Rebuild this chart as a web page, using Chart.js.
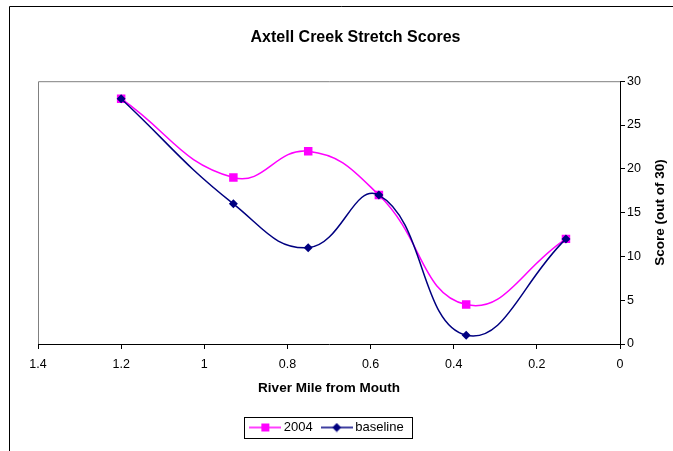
<!DOCTYPE html>
<html>
<head>
<meta charset="utf-8">
<script src="https://cdn.jsdelivr.net/npm/chart.js@4/dist/chart.umd.min.js"></script>
<style>
  html, body { margin: 0; padding: 0; background: #fff; }
  #wrap { position: relative; width: 673px; height: 451px; }
</style>
</head>
<body>
<div id="wrap"><canvas id="myChart" width="673" height="451"></canvas></div>
<script>
// river mile of each stretch
var riverMiles = [1.2, 0.93, 0.75, 0.58, 0.37, 0.13];
// scores
var scores2004 = [28, 19, 22, 17, 4.5, 12];
var scoresBaseline = [28, 16, 11, 17, 1, 12];
// axis ticks
var xTicks = [0, 0.2, 0.4, 0.6, 0.8, 1, 1.2, 1.4];
var yTicks = [0, 5, 10, 15, 20, 25, 30];

var FONT = "'Liberation Sans', Arial, sans-serif";

function pairs(xs, ys) {
  var out = [];
  for (var i = 0; i < xs.length; i++) out.push({x: xs[i], y: ys[i]});
  return out;
}

// small legend symbol: line with marker in middle
function legendSymbol(color, shape) {
  var c = document.createElement('canvas');
  c.width = 32; c.height = 10;
  var g = c.getContext('2d');
  g.strokeStyle = color;
  g.lineWidth = 1.5;
  g.beginPath(); g.moveTo(0, 5); g.lineTo(32, 5); g.stroke();
  g.fillStyle = color;
  if (shape == 'square') {
    g.fillRect(12, 1, 8, 8);
  } else {
    g.beginPath();
    g.moveTo(16, 0.5); g.lineTo(20.5, 5); g.lineTo(16, 9.5); g.lineTo(11.5, 5);
    g.closePath(); g.fill();
  }
  return c;
}
var symbols = [legendSymbol('#FF00FF', 'square'), legendSymbol('#000080', 'diamond')];

// frame, plot border, y title, legend box
var extras = {
  id: 'extras',
  afterLayout: function (chart) {
    // legend sits centred under the plot area, not the whole canvas
    chart.legend.left -= 27;
    chart.legend.right -= 27;
  },
  beforeDraw: function (chart) {
    var ctx = chart.ctx, a = chart.chartArea;
    ctx.save();
    ctx.strokeStyle = '#000';
    ctx.lineWidth = 1;
    ctx.beginPath();
    ctx.moveTo(9.5, 451); ctx.lineTo(9.5, 6.5); ctx.lineTo(673, 6.5);
    ctx.stroke();
    ctx.strokeStyle = '#808080';
    ctx.beginPath();
    ctx.moveTo(a.left + 0.5, a.bottom); ctx.lineTo(a.left + 0.5, a.top + 0.5); ctx.lineTo(a.right, a.top + 0.5);
    ctx.stroke();
    ctx.restore();
  },
  afterDraw: function (chart) {
    var ctx = chart.ctx, a = chart.chartArea;
    ctx.save();
    ctx.fillStyle = '#000';
    ctx.font = 'bold 13.5px ' + FONT;
    ctx.textAlign = 'center';
    ctx.textBaseline = 'middle';
    ctx.translate(660, (a.top + a.bottom) / 2);
    ctx.rotate(-Math.PI / 2);
    ctx.fillText('Score (out of 30)', 0, 0);
    ctx.restore();

    var boxes = chart.legend.legendHitBoxes;
    if (boxes && boxes.length) {
      var last = boxes[boxes.length - 1];
      var l = boxes[0].left - 9, r = last.left + last.width + 9;
      var t = boxes[0].top - 4, b = boxes[0].top + boxes[0].height + 4;
      ctx.save();
      ctx.strokeStyle = '#000';
      ctx.lineWidth = 1;
      ctx.strokeRect(Math.round(l) + 0.5, Math.round(t) + 0.5, Math.round(r - l), Math.round(b - t));
      ctx.restore();
    }
  }
};

var ctx = document.getElementById('myChart').getContext('2d');
var myChart = new Chart(ctx, {
  type: 'line',
  data: {
    datasets: [
      {
        label: '2004',
        data: pairs(riverMiles, scores2004),
        borderColor: '#FF00FF',
        backgroundColor: '#FF00FF',
        borderWidth: 1.5,
        tension: 0.45,
        pointStyle: 'rect',
        pointRadius: 6,
        pointBorderWidth: 0,
        order: 2
      },
      {
        label: 'baseline',
        data: pairs(riverMiles, scoresBaseline),
        borderColor: '#000080',
        backgroundColor: '#000080',
        borderWidth: 1.5,
        tension: 0.45,
        pointStyle: 'rectRot',
        pointRadius: 4.5,
        pointBorderWidth: 0,
        order: 1
      }
    ]
  },
  options: {
    responsive: false,
    animation: false,
    layout: { padding: { left: 38, right: 0, top: 0, bottom: 7 } },
    plugins: {
      tooltip: { enabled: false },
      title: {
        display: true,
        text: 'Axtell Creek Stretch Scores',
        color: '#000',
        font: { family: FONT, size: 16, weight: 'bold' },
        padding: { top: 28, bottom: 34 }
      },
      legend: {
        position: 'bottom',
        labels: {
          usePointStyle: true,
          pointStyleWidth: 24,
          color: '#000',
          font: { family: FONT, size: 13 },
          padding: 12,
          sort: function (a, b) { return a.datasetIndex - b.datasetIndex; },
          generateLabels: function (chart) {
            var items = Chart.defaults.plugins.legend.labels.generateLabels(chart);
            items.forEach(function (it) { it.pointStyle = symbols[it.datasetIndex]; });
            return items;
          }
        }
      }
    },
    scales: {
      x: {
        type: 'linear',
        reverse: true,
        min: 0,
        max: 1.4,
        afterBuildTicks: function (s) { s.ticks = xTicks.map(function (v) { return {value: v}; }); },
        afterFit: function (s) { s.height = 65; },
        border: { display: true, color: '#000', width: 1 },
        grid: { drawOnChartArea: false, drawTicks: true, tickLength: 5, color: '#000' },
        ticks: {
          color: '#000', font: { family: FONT, size: 12.5 }, padding: 8, maxRotation: 0,
          callback: function (v) { return String(Math.round(v * 10) / 10); }
        },
        title: {
          display: true,
          text: 'River Mile from Mouth',
          color: '#000',
          font: { family: FONT, size: 13.5, weight: 'bold' },
          padding: { top: 6, bottom: 13 }
        }
      },
      y: {
        type: 'linear',
        position: 'right',
        min: 0,
        max: 30,
        afterBuildTicks: function (s) { s.ticks = yTicks.map(function (v) { return {value: v}; }); },
        afterFit: function (s) { s.width = 53; },
        border: { display: true, color: '#000', width: 1 },
        grid: { drawOnChartArea: false, drawTicks: true, tickLength: 5, color: '#000' },
        ticks: { color: '#000', font: { family: FONT, size: 12.5 }, padding: 2 }
      }
    }
  },
  plugins: [extras]
});
</script>
</body>
</html>
